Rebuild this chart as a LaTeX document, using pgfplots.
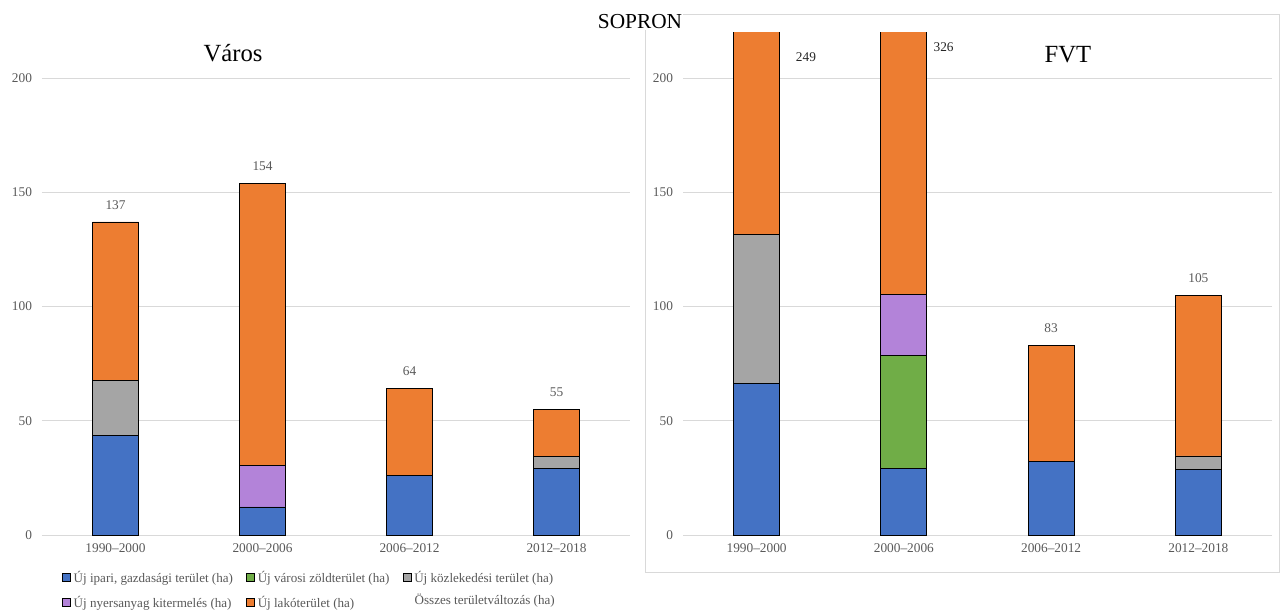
\documentclass[border=0pt]{standalone}
\usepackage{fontspec}
\setmainfont{Liberation Serif}
\usepackage{pgfplots}
\pgfplotsset{compat=1.18}

\definecolor{cblue}{HTML}{4472C4}
\definecolor{cgreen}{HTML}{70AD47}
\definecolor{cgray}{HTML}{A5A5A5}
\definecolor{cpurple}{HTML}{B383D9}
\definecolor{corange}{HTML}{ED7D31}
\definecolor{tickgray}{HTML}{595959}
\definecolor{gridgray}{HTML}{D9D9D9}

\pgfplotsset{
  bstyle/.style={
    scale only axis,
    ybar stacked,
    bar width=34.5pt,
    xmin=-0.5, xmax=3.5, ymin=0,
    xtick={0,1,2,3},
    xticklabels={1990--2000,2000--2006,2006--2012,2012--2018},
    ytick={0,50,100,150,200},
    axis line style={draw=none},
    major tick length=0pt,
    ymajorgrids,
    grid style={gridgray, line width=0.75pt},
    tick label style={font=\fontsize{10}{12}\selectfont, text=tickgray},
    /pgf/number format/assume math mode=true,
    xticklabel style={yshift=-3pt},
    yticklabel style={xshift=-4pt},
    legend image code/.code={\draw[#1] (0pt,-3pt) rectangle (6pt,3pt);},
  },
  bx/.style={draw=black, line width=0.6pt, fill=#1},
  lstyle/.style={
    scale only axis, hide axis,
    xmin=-0.5, xmax=3.5, ymin=0,
    clip=false,
  }
}

\begin{document}
\begin{tikzpicture}[x=1pt,y=1pt]
\useasboundingbox (0,0) rectangle (960,459);
\draw[gridgray, line width=0.75pt] (483.75,30) rectangle (959.25,447.75);

% ---------------- Város ----------------
\begin{axis}[bstyle,
  at={(31.5pt,57.75pt)}, anchor=south west,
  width=441pt, height=342.75pt, ymax=200,
  legend columns=3,
  legend style={at={(0.034,-0.072)}, anchor=north west, draw=none, fill=none,
    font=\fontsize{9.8}{11}\selectfont, text=tickgray, inner sep=0pt,
    row sep=5pt,
    /tikz/every even column/.append style={column sep=8pt}},
  legend cell align=left,
]
\addplot[bx=cblue] coordinates {(0,43.5) (1,12.3) (2,26.1) (3,29.0)};
\addlegendentry{Új ipari, gazdasági terület (ha)}
\addplot[bx=cgreen] coordinates {(0,0) (1,0) (2,0) (3,0)};
\addlegendentry{Új városi zöldterület (ha)}
\addplot[bx=cgray] coordinates {(0,24.0) (1,0) (2,0) (3,5.5)};
\addlegendentry{Új közlekedési terület (ha)}
\addplot[bx=cpurple] coordinates {(0,0) (1,18.2) (2,0) (3,0)};
\addlegendentry{Új nyersanyag kitermelés (ha)}
\addplot[bx=corange] coordinates {(0,69.5) (1,123.5) (2,37.9) (3,20.5)};
\addlegendentry{Új lakóterület (ha)}
\end{axis}
\begin{axis}[lstyle,
  at={(31.5pt,57.75pt)}, anchor=south west,
  width=441pt, height=342.75pt, ymax=200,
]
\addplot[draw=none, mark=none, nodes near coords, point meta=explicit symbolic,
  every node near coord/.append style={font=\fontsize{10}{12}\selectfont, text=tickgray, anchor=south, yshift=6pt}]
  coordinates {(0,137) [137] (1,154) [154] (2,64) [64] (3,55) [55]};
\end{axis}
\node[font=\fontsize{9.8}{11}\selectfont, text=tickgray, inner sep=0pt, anchor=base west] at (310.8,5.3) {Összes területváltozás (ha)};

% ---------------- FVT ----------------
\begin{axis}[bstyle,
  at={(512.25pt,57.75pt)}, anchor=south west,
  width=441.75pt, height=377pt, ymax=220,
]
\addplot[bx=cblue] coordinates {(0,66.2) (1,29.1) (2,32.0) (3,28.7)};
\addplot[bx=cgreen] coordinates {(0,0) (1,49.5) (2,0) (3,0)};
\addplot[bx=cgray] coordinates {(0,65.5) (1,0) (2,0) (3,5.9)};
\addplot[bx=cpurple] coordinates {(0,0) (1,26.5) (2,0) (3,0)};
\addplot[bx=corange] coordinates {(0,117.3) (1,220.9) (2,51.0) (3,70.4)};
\end{axis}
\begin{axis}[lstyle,
  at={(512.25pt,57.75pt)}, anchor=south west,
  width=441.75pt, height=377pt, ymax=220,
]
\addplot[draw=none, mark=none, nodes near coords, point meta=explicit symbolic,
  every node near coord/.append style={font=\fontsize{10}{12}\selectfont, text=tickgray, anchor=south, yshift=6pt}]
  coordinates {(2,83) [83] (3,105) [105]};
\node[font=\fontsize{10}{12}\selectfont, text=black!85] at (axis cs:0.335,209) {249};
\node[font=\fontsize{10}{12}\selectfont, text=black!85] at (axis cs:1.27,213.5) {326};
\end{axis}

\node[font=\fontsize{16}{18}\selectfont, fill=white, inner sep=1pt] at (480,442.5) {SOPRON};
\node[font=\fontsize{18.5}{20}\selectfont] at (174.75,419.25) {Város};
\node[font=\fontsize{18.5}{20}\selectfont] at (801,417.75) {FVT};
\end{tikzpicture}
\end{document}
